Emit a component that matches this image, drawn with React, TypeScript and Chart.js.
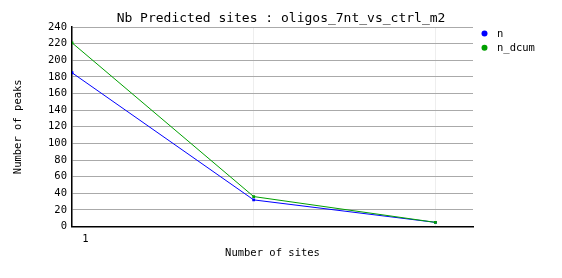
import React, { useEffect, useRef } from "react";
import { Chart, registerables } from "chart.js";

Chart.register(...registerables);

const TITLE = "Nb Predicted sites : oligos_7nt_vs_ctrl_m2";
const X_TITLE = "Number of sites";
const Y_TITLE = "Number of peaks";
const sites = [1, 2, 3];
const seriesN = [185, 32, 5];
const seriesNDcum = [221, 36, 5];
const seriesLabels = ["n", "n_dcum"];
const seriesColors = ["#0000ff", "#00a000"];

const MONO = "'DejaVu Sans Mono', monospace";

const decorPlugin = {
  id: "decor",
  afterDraw(chart: any) {
    const ctx = chart.ctx;
    ctx.save();
    ctx.fillStyle = "#000";
    ctx.font = `13px ${MONO}`;
    ctx.textAlign = "center";
    ctx.textBaseline = "middle";
    ctx.fillText(TITLE, 281, 19);
    ctx.textAlign = "left";
    ctx.font = `10.5px ${MONO}`;
    const ds = [...chart.data.datasets].sort((a: any, b: any) => a.legendIndex - b.legendIndex);
    ds.forEach((d: any, i: number) => {
      const y = 33.5 + i * 14.3;
      ctx.fillStyle = d.borderColor;
      ctx.beginPath();
      ctx.arc(484.5, y, 3, 0, Math.PI * 2);
      ctx.fill();
      ctx.fillStyle = "#000";
      ctx.fillText(d.label, 497, y + 0.5);
    });
    ctx.restore();
  },
};

export default function App() {
  const ref = useRef<HTMLCanvasElement>(null);
  useEffect(() => {
    const datasets = [seriesN, seriesNDcum].map((vals, i) => ({
      label: seriesLabels[i],
      legendIndex: i,
      order: 1 - i,
      data: sites.map((x, j) => ({ x, y: vals[j] })),
      borderColor: seriesColors[i],
      backgroundColor: seriesColors[i],
      borderWidth: 1,
      pointStyle: "rect" as const,
      pointRadius: 2,
      pointBorderWidth: 0,
      tension: 0,
    }));
    const chart = new Chart(ref.current!, {
      type: "line",
      data: { datasets },
      plugins: [decorPlugin],
      options: {
        animation: false,
        responsive: false,
        layout: { padding: { left: 0, right: 89, top: 27, bottom: 0 } },
        plugins: {
          legend: { display: false },
          tooltip: { enabled: false },
          title: { display: false },
        },
        scales: {
          x: {
            type: "linear",
            min: 1,
            max: 3.207,
            afterBuildTicks: (s: any) => {
              s.ticks = sites.map((v) => ({ value: v }));
            },
            afterFit: (s: any) => {
              s.height = 51.5;
            },
            ticks: {
              color: "#000",
              font: { family: MONO, size: 10.5 },
              padding: 6,
              labelOffset: 13.5,
              maxRotation: 0,
              callback: (v: any) => (v === 1 ? "1" : ""),
            },
            grid: { color: "#eeeeee", drawTicks: false, lineWidth: 1 },
            border: { color: "#000", width: 1.5 },
            title: {
              display: true,
              text: X_TITLE,
              color: "#000",
              font: { family: MONO, size: 10.5 },
              padding: { top: 0, bottom: 18.2 },
            },
          },
          y: {
            min: 0,
            max: 240,
            afterFit: (s: any) => {
              s.width = 72;
            },
            ticks: {
              stepSize: 20,
              color: "#000",
              font: { family: MONO, size: 10.5 },
              padding: 5,
            },
            grid: { color: "#aaaaaa", drawTicks: false, lineWidth: 1 },
            border: { color: "#000", width: 1.5 },
            title: {
              display: true,
              text: Y_TITLE,
              color: "#000",
              font: { family: MONO, size: 10.5 },
              padding: { top: 12, bottom: 0 },
            },
          },
        },
      },
    });
    return () => chart.destroy();
  }, []);
  return (
    <div style={{ position: "fixed", left: 0, top: 0, width: 562, height: 278, background: "#fff" }}>
      <canvas ref={ref} width={562} height={278} />
    </div>
  );
}
